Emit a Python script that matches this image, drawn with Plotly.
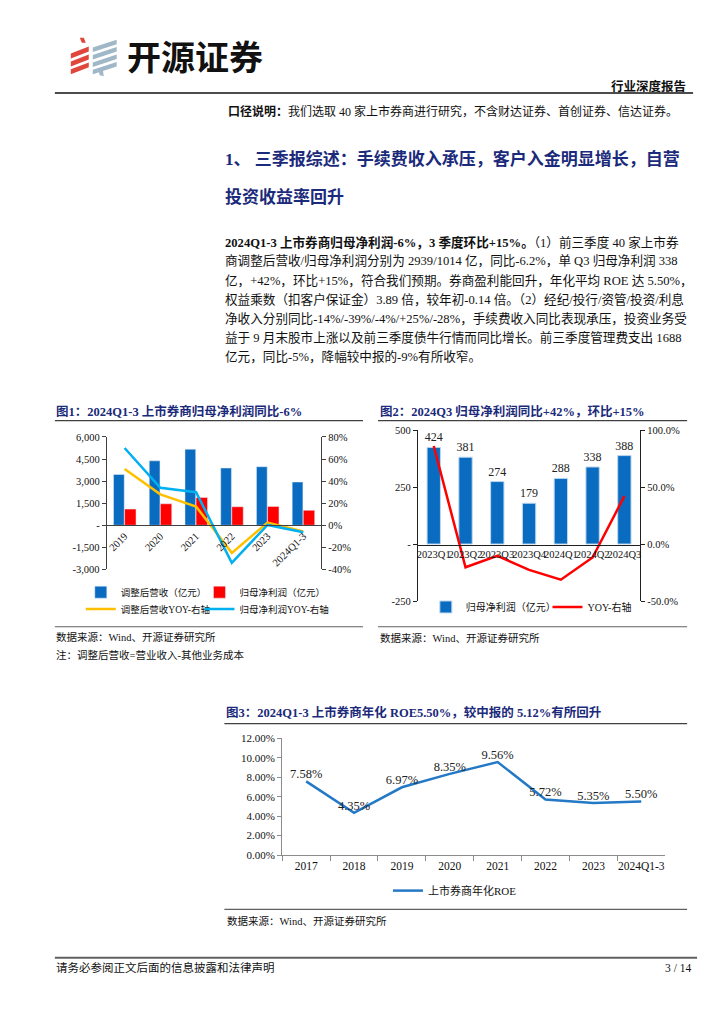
import plotly.graph_objects as go

W, H = 724, 1024
def X(px): return px / W
def Y(py): return 1 - py / H

SERIF = "Liberation Serif, Noto Sans CJK SC, serif"
SANS = "Noto Sans CJK SC, sans-serif"
NAVY = "#1B2A7A"

# ---------------- data ----------------
years1 = ['2019', '2020', '2021', '2022', '2023', '2024Q1-3']
rev1 = [3450, 4380, 5170, 3890, 3980, 2939]          # 调整后营收（亿元）
np1 = [1100, 1460, 1890, 1260, 1280, 1014]           # 归母净利润（亿元）
rev_yoy1 = [51, 28, 17, -25, 2.4, -5.7]              # 调整后营收YOY (%)
np_yoy1 = [70, 34, 30, -34, 0.3, -6.3]               # 归母净利润YOY (%)
left1_vals = [-3000, -1500, 0, 1500, 3000, 4500, 6000]
left1_text = ['-3,000', '-1,500', '-', '1,500', '3,000', '4,500', '6,000']
right1_vals = [-40, -20, 0, 20, 40, 60, 80]
right1_text = ['-40%', '-20%', '0%', '20%', '40%', '60%', '80%']

quarters2 = ['2023Q1', '2023Q2', '2023Q3', '2023Q4', '2024Q1', '2024Q2', '2024Q3']
np2 = [424, 381, 274, 179, 288, 338, 388]            # 归母净利润（亿元）
yoy2 = [86, -20.4, -10.3, -22.7, -31.3, -11.8, 42]   # YOY (%)
left2_vals = [-250, 0, 250, 500]
left2_text = ['-250', '-', '250', '500']
right2_vals = [-50, 0, 50, 100]
right2_text = ['-50.0%', '0.0%', '50.0%', '100.0%']

years3 = ['2017', '2018', '2019', '2020', '2021', '2022', '2023', '2024Q1-3']
roe3 = [7.58, 4.35, 6.97, 8.35, 9.56, 5.72, 5.35, 5.50]  # 上市券商年化ROE (%)

# ---------------- traces ----------------
fig = go.Figure()
fig.add_trace(go.Bar(x=years1, y=rev1, name='调整后营收（亿元）', marker_color='#0A6CC0',
                     width=0.3, offset=-0.31, xaxis='x', yaxis='y', legend='legend'))
fig.add_trace(go.Bar(x=years1, y=np1, name='归母净利润（亿元）', marker_color='#FF0000',
                     width=0.32, offset=0.0, xaxis='x', yaxis='y', legend='legend5'))
fig.add_trace(go.Scatter(x=years1, y=rev_yoy1, name='调整后营收YOY-右轴', mode='lines',
                         line=dict(color='#FFC000', width=2.5), xaxis='x', yaxis='y2', legend='legend2'))
fig.add_trace(go.Scatter(x=years1, y=np_yoy1, name='归母净利润YOY-右轴', mode='lines',
                         line=dict(color='#00B0F0', width=2.5), xaxis='x', yaxis='y2', legend='legend6'))

fig.add_trace(go.Bar(x=quarters2, y=np2, name='归母净利润（亿元）',
                     marker=dict(color='#0A6CC0', line=dict(color='#BDD7EE', width=1)),
                     width=0.42, text=[str(v) for v in np2], textposition='outside', cliponaxis=False,
                     constraintext='none',
                     textfont=dict(family=SERIF, size=12, color='#222'),
                     xaxis='x2', yaxis='y3', legend='legend3'))
fig.add_trace(go.Scatter(x=quarters2, y=yoy2, name='YOY-右轴', mode='lines',
                         line=dict(color='#FF0000', width=2.5), xaxis='x2', yaxis='y4', legend='legend7'))

fig.add_trace(go.Scatter(x=years3, y=roe3, name='上市券商年化ROE', mode='lines+text',
                         text=['%.2f%%' % v for v in roe3], textposition='top center',
                         textfont=dict(family=SERIF, size=12.5, color='#222'), cliponaxis=False,
                         line=dict(color='#2479C6', width=2.5), xaxis='x3', yaxis='y5', legend='legend4'))

tf = lambda s: dict(family=SERIF, size=s, color='#111')
common_y = dict(showgrid=False, zeroline=False, showline=True, ticks='outside', ticklen=4)

def leg(x, y, size):
    return dict(x=X(x), y=Y(y), orientation='h', xanchor='left', yanchor='middle',
                bgcolor='rgba(0,0,0,0)', itemwidth=30, tracegroupgap=0,
                font=dict(family=SERIF, size=size, color='#111'))

fig.update_layout(
    width=W, height=H, margin=dict(l=0, r=0, t=0, b=0), showlegend=True,
    paper_bgcolor='white', plot_bgcolor='rgba(0,0,0,0)', barmode='overlay',
    xaxis=dict(domain=[X(98), X(313)], anchor='free', position=Y(517), type='category',
               range=[-0.5, 5.5], tickangle=-45, showline=True, linecolor='#404040', ticks='',
               showgrid=False, zeroline=False, tickfont=tf(10.5)),
    yaxis=dict(domain=[Y(562), Y(428)], anchor='x', range=[-3000, 6000], tickvals=left1_vals,
               ticktext=left1_text, linecolor='#404040', tickcolor='#404040', tickfont=tf(10.5), **common_y),
    yaxis2=dict(overlaying='y', side='right', anchor='x', range=[-40, 80], tickvals=right1_vals,
                ticktext=right1_text, linecolor='#404040', tickcolor='#404040', tickfont=tf(10.5), **common_y),
    xaxis2=dict(domain=[X(410), X(633)], anchor='free', position=Y(537), type='category',
                range=[-0.5, 6.5], showline=True, linecolor='#202020', ticks='', showgrid=False,
                zeroline=False, tickfont=tf(10.5), tickangle=0),
    yaxis3=dict(domain=[Y(594), Y(421)], anchor='x2', range=[-250, 500], tickvals=left2_vals,
                ticktext=left2_text, linecolor='#202020', tickcolor='#202020', tickfont=tf(10.5), **common_y),
    yaxis4=dict(overlaying='y3', side='right', anchor='x2', range=[-50, 100], tickvals=right2_vals,
                ticktext=right2_text, linecolor='#202020', tickcolor='#202020', tickfont=tf(10.5), **common_y),
    xaxis3=dict(domain=[X(274), X(658)], anchor='y5', type='category', range=[-0.5, 7.5],
                showline=True, linecolor='#8C8C8C', ticks='outside', tickson='boundaries', ticklen=5,
                tickcolor='#8C8C8C', showgrid=False, zeroline=False, tickfont=tf(11.5), tickangle=0),
    yaxis5=dict(domain=[Y(851), Y(733)], anchor='x3', range=[0, 12], dtick=2, tickformat='.2f',
                ticksuffix='%', linecolor='#8C8C8C', tickcolor='#8C8C8C', tickfont=tf(11), **common_y),
    legend=leg(72, 585, 9.5),
    legend5=leg(191, 585, 9.5),
    legend2=leg(72, 602, 9.5),
    legend6=leg(191, 602, 9.5),
    legend3=leg(418, 600, 10),
    legend7=leg(540, 600, 10),
    legend4=leg(380, 887, 11),
)

# ---------------- page text ----------------
def txt(s, x, y, size=12, color='#111', family=SERIF, xanchor='left', yanchor='middle'):
    return dict(text=s, x=X(x), y=Y(y), xref='paper', yref='paper', showarrow=False,
                xanchor=xanchor, yanchor=yanchor, font=dict(size=size, color=color, family=family))

anns = []
anns.append(txt('<b>开源证券</b>', 116, 42, size=34, color='#111', family=SANS))
anns.append(txt('<b>行业深度报告</b>', 681, 73, size=12.5, xanchor='right'))
anns.append(txt('<b>口径说明：</b>我们选取 40 家上市券商进行研究，不含财达证券、首创证券、信达证券。', 218, 99, size=12))
anns.append(txt('<b>1、 三季报综述：手续费收入承压，客户入金明显增长，自营</b>', 215, 147, size=17, color=NAVY))
anns.append(txt('<b>投资收益率回升</b>', 215, 185, size=17, color=NAVY))

body = [
    "<b>2024Q1-3 上市券商归母净利润-6%，3 季度环比+15%。</b>（1）前三季度 40 家上市券",
    "商调整后营收/归母净利润分别为 2939/1014 亿，同比-6.2%，单 Q3 归母净利润 338",
    "亿，+42%，环比+15%，符合我们预期。券商盈利能回升，年化平均 ROE 达 5.50%，",
    "权益乘数（扣客户保证金）3.89 倍，较年初-0.14 倍。（2）经纪/投行/资管/投资/利息",
    "净收入分别同比-14%/-39%/-4%/+25%/-28%，手续费收入同比表现承压，投资业务受",
    "益于 9 月末股市上涨以及前三季度债牛行情而同比增长。前三季度管理费支出 1688",
    "亿元，同比-5%，降幅较中报的-9%有所收窄。",
]
for i, line in enumerate(body):
    anns.append(txt(line, 215, 231 + i * 19.2, size=12.6))

anns.append(txt('<b>图1：2024Q1-3 上市券商归母净利润同比-6%</b>', 45, 402, size=12.5, color=NAVY))
anns.append(txt('<b>图2：2024Q3 归母净利润同比+42%，环比+15%</b>', 370, 402, size=12.5, color=NAVY))
anns.append(txt('数据来源：Wind、开源证券研究所', 45, 630, size=10.5))
anns.append(txt('注：调整后营收=营业收入-其他业务成本', 45, 649, size=10.5))
anns.append(txt('数据来源：Wind、开源证券研究所', 370, 631, size=10.5))
anns.append(txt('<b>图3：2024Q1-3 上市券商年化 ROE5.50%，较中报的 5.12%有所回升</b>', 216, 707, size=12.5, color=NAVY))
anns.append(txt('数据来源：Wind、开源证券研究所', 217, 918, size=10.5))
anns.append(txt('请务必参阅正文后面的信息披露和法律声明', 45, 965, size=11.5))
anns.append(txt('3 / 14', 686, 965, size=11.5, xanchor='right'))
fig.update_layout(annotations=anns)

# ---------------- rules and logo ----------------
def hline(x0, x1, y, color='#404040', width=1.0):
    return dict(type='line', xref='paper', yref='paper', x0=X(x0), x1=X(x1), y0=Y(y), y1=Y(y),
                line=dict(color=color, width=width))

def poly(pts, color):
    d = 'M ' + ' L '.join('%.5f %.5f' % (X(a), Y(b)) for a, b in pts) + ' Z'
    return dict(type='path', xref='paper', yref='paper', path=d, fillcolor=color,
                line=dict(width=0))

shapes = [
    hline(46, 686, 80, '#111', 1.5),
    hline(46, 355, 411.5, '#404040', 1.2),
    hline(370, 680, 411.5, '#404040', 1.2),
    hline(46, 355, 620, '#606060', 1.2),
    hline(370, 680, 620, '#606060', 1.2),
    hline(216, 680, 718, '#404040', 1.2),
    hline(216, 680, 906, '#606060', 1.2),
    hline(46, 690, 955, '#606060', 2),
]
RED, GRY = '#E0463C', '#9FB7C6'
shapes.append(poly([(71, 24), (75, 24), (77, 29), (73, 29)], RED))
for i in range(3):
    y0 = 31 + i * 8
    shapes.append(poly([(62, y0 + 9), (80, y0 + 2), (80, y0 + 7), (62, y0 + 14)], RED))
for i in range(4):
    y0 = 26 + i * 7.5
    shapes.append(poly([(84, y0 + 8), (108, y0), (108, y0 + 4.5), (84, y0 + 12.5)], GRY))
shapes.append(poly([(89, 55), (94, 55), (95, 63), (91, 62)], GRY))
fig.update_layout(shapes=shapes)

fig.write_html('out.html')
